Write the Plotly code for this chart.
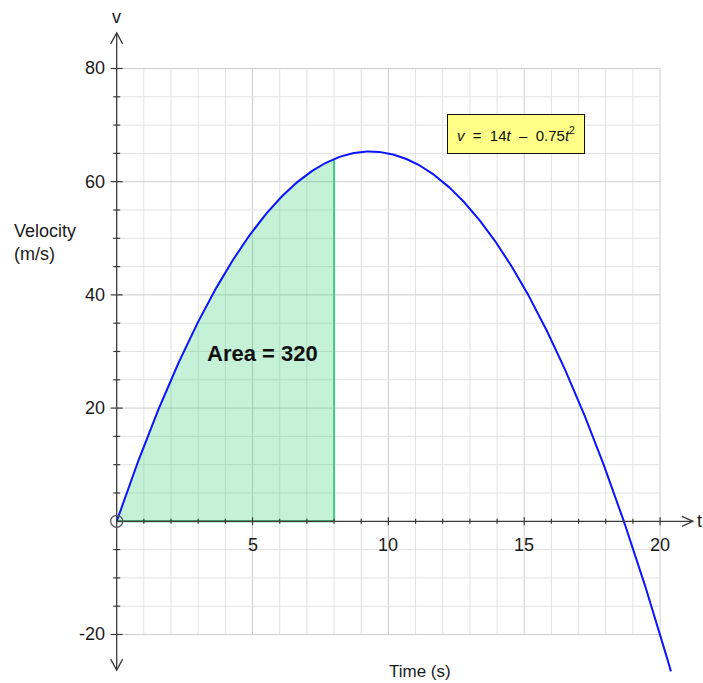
import numpy as np
import plotly.graph_objects as go

# Velocity model v = A*t - B*t^2
coef_a = 14.0
coef_b = 0.75
t_end_curve = 20.4
t_area_end = 8.0
area_label = "Area = 320"

x_tick_values = [5, 10, 15, 20]
y_tick_values = [-20, 20, 40, 60, 80]
x_grid = list(range(1, 21))
y_grid = list(range(-20, 81, 5))

FONT = "Liberation Sans, Arial, sans-serif"
AXIS_COLOR = "#3a3a3a"
GRID_MINOR = "#e2e2e2"
GRID_MAJOR = "#cdcdcd"
TEXT_COLOR = "#1a1a1a"

t = np.linspace(0, t_end_curve, 400)
v = coef_a * t - coef_b * t ** 2
ta = np.linspace(0, t_area_end, 200)
va = coef_a * ta - coef_b * ta ** 2
v_at_end = coef_a * t_area_end - coef_b * t_area_end ** 2

fig = go.Figure()

# shaded area under the curve
fig.add_trace(go.Scatter(x=ta, y=va, fill="tozeroy", mode="lines",
                         line=dict(width=0), fillcolor="rgba(46,204,113,0.28)",
                         hoverinfo="skip", showlegend=False))
# boundary of the shaded region
fig.add_trace(go.Scatter(x=[t_area_end, t_area_end], y=[0, v_at_end], mode="lines",
                         line=dict(color="#3fcf80", width=2), showlegend=False))
fig.add_trace(go.Scatter(x=[0, t_area_end], y=[0, 0], mode="lines",
                         line=dict(color="#2fa060", width=2), showlegend=False))
# velocity curve
fig.add_trace(go.Scatter(x=t, y=v, mode="lines",
                         line=dict(color="#0a14ff", width=2), showlegend=False))

shapes = []
# grid
for gx in x_grid:
    shapes.append(dict(type="line", x0=gx, x1=gx, y0=-20, y1=80, layer="below",
                       line=dict(color=GRID_MAJOR if gx % 5 == 0 else GRID_MINOR, width=1)))
for gy in y_grid:
    if gy == 0:
        continue
    shapes.append(dict(type="line", x0=0, x1=20, y0=gy, y1=gy, layer="below",
                       line=dict(color=GRID_MAJOR if gy % 20 == 0 else GRID_MINOR, width=1)))

# axes
shapes.append(dict(type="line", x0=0, x1=21.21, y0=0, y1=0, layer="above",
                   line=dict(color=AXIS_COLOR, width=1.3)))
shapes.append(dict(type="line", x0=0, x1=0, y0=-26.3, y1=86.3, layer="above",
                   line=dict(color=AXIS_COLOR, width=1.3)))

# arrowheads (pixel offsets around anchor points)
shapes.append(dict(type="path", xsizemode="pixel", ysizemode="pixel",
                   xanchor=21.21, yanchor=0, path="M -11 5 L 0 0 L -11 -5",
                   layer="above", line=dict(color=AXIS_COLOR, width=1.3)))
shapes.append(dict(type="path", xsizemode="pixel", ysizemode="pixel",
                   xanchor=0, yanchor=86.3, path="M -6 -11 L 0 0 L 6 -11",
                   layer="above", line=dict(color=AXIS_COLOR, width=1.3)))
shapes.append(dict(type="path", xsizemode="pixel", ysizemode="pixel",
                   xanchor=0, yanchor=-26.3, path="M -6 11 L 0 0 L 6 11",
                   layer="above", line=dict(color=AXIS_COLOR, width=1.3)))

# tick marks
for tx in range(1, 21):
    h = 4 if tx % 5 == 0 else 2.5
    shapes.append(dict(type="line", xsizemode="pixel", ysizemode="pixel",
                       xanchor=tx, yanchor=0, x0=0, x1=0, y0=-h, y1=h,
                       layer="above", line=dict(color=AXIS_COLOR, width=1.2)))
for ty in y_grid:
    if ty == 0:
        continue
    w = 6 if ty % 20 == 0 else 3.5
    shapes.append(dict(type="line", xsizemode="pixel", ysizemode="pixel",
                       xanchor=0, yanchor=ty, x0=-w, x1=w, y0=0, y1=0,
                       layer="above", line=dict(color=AXIS_COLOR, width=1.2)))

# open circle at the origin
shapes.append(dict(type="circle", xsizemode="pixel", ysizemode="pixel",
                   xanchor=0, yanchor=0, x0=-6, x1=6, y0=-6, y1=6,
                   layer="above", line=dict(color="#555555", width=1.2)))

annotations = []
for tx in x_tick_values:
    annotations.append(dict(x=tx, y=0, text=str(tx), showarrow=False, yshift=-24,
                            font=dict(family=FONT, size=18, color=TEXT_COLOR)))
for ty in y_tick_values:
    annotations.append(dict(x=0, y=ty, text=str(ty), showarrow=False, xanchor="right",
                            xshift=-10, font=dict(family=FONT, size=18, color=TEXT_COLOR)))

annotations += [
    dict(x=0, y=89.1, text="v", showarrow=False,
         font=dict(family=FONT, size=18, color=TEXT_COLOR)),
    dict(x=21.3, y=0, text="t", showarrow=False, xanchor="left",
         font=dict(family=FONT, size=18, color=TEXT_COLOR)),
    dict(x=-3.86, y=49.3, text="Velocity<br>(m/s)", showarrow=False, xanchor="left",
         align="left", font=dict(family=FONT, size=18, color=TEXT_COLOR)),
    dict(x=11.16, y=-26.5, text="Time (s)", showarrow=False,
         font=dict(family=FONT, size=17, color=TEXT_COLOR)),
    dict(x=5.35, y=29.6, text="<b>" + area_label + "</b>", showarrow=False,
         font=dict(family=FONT, size=22, color="#111")),
    dict(x=14.70, y=68.4,
         text="<i>v</i>\u00a0\u00a0=\u00a0\u00a014<i>t</i>\u00a0\u00a0\u2013\u00a0\u00a00.75<i>t</i><sup>2</sup>",
         showarrow=False, bgcolor="#ffff88", bordercolor="#111", borderwidth=1,
         width=134, height=36, font=dict(family=FONT, size=15, color="#111")),
]

fig.update_layout(
    width=703, height=683,
    margin=dict(l=0, r=0, t=0, b=0),
    paper_bgcolor="white", plot_bgcolor="white",
    xaxis=dict(range=[-4.295, 21.58], visible=False, fixedrange=True),
    yaxis=dict(range=[-28.57, 92.10], visible=False, fixedrange=True),
    shapes=shapes, annotations=annotations,
)

fig.write_html("out.html")
